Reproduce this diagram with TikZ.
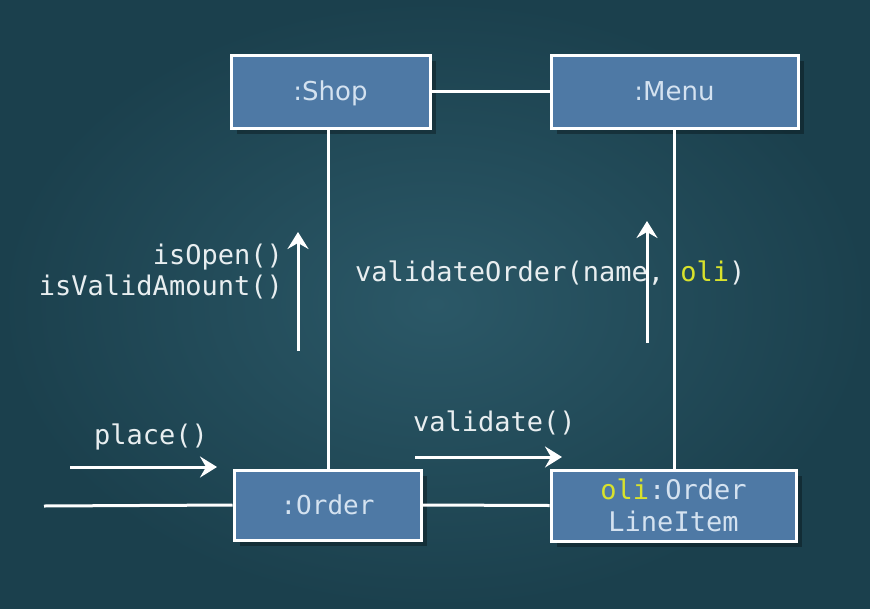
\documentclass[tikz,border=0pt]{standalone}
\usepackage{fontspec}
\setmainfont{DejaVu Sans}
\newfontfamily\codefont{DejaVu Sans Mono}
\usetikzlibrary{arrows.meta,shadows}
\definecolor{bgc}{HTML}{2B5867}
\definecolor{bgdark}{HTML}{1B404D}
\definecolor{boxc}{HTML}{4E79A5}
\definecolor{boxtext}{HTML}{D4E2F0}
\definecolor{olic}{HTML}{D8E22C}
\definecolor{labtext}{HTML}{E8EEF0}
\tikzset{
  objbox/.style={draw=white, line width=3pt, fill=boxc, text=boxtext, inner sep=0pt, align=center,
    drop shadow={shadow xshift=6pt, shadow yshift=-6pt, fill=black, opacity=0.3}},
  link/.style={draw=white, line width=3pt},
  msgarrow/.style={draw=white, line width=3pt, -{Stealth[length=17pt,width=21pt,inset=6pt]}},
  msglabel/.style={text=labtext, font=\codefont\fontsize{27}{31}\selectfont, inner sep=0pt}
}
\begin{document}
\begin{tikzpicture}[x=1pt,y=-1pt]
\useasboundingbox (0,0) rectangle (870,608);
\shade[inner color=bgc, outer color=bgdark] (0,0) rectangle (870,608);
% objects
\node[objbox, minimum width=199pt, minimum height=73pt, text depth=1pt, font=\fontsize{26}{30}\selectfont] (shop) at (330.5,91.5) {:Shop};
\node[objbox, minimum width=247pt, minimum height=73pt, text depth=1pt, font=\fontsize{26}{30}\selectfont] (menu) at (674.5,91.5) {:Menu};
\node[objbox, minimum width=187pt, minimum height=70pt, font=\codefont\fontsize{26}{30}\selectfont] (order) at (327.5,505) {:Order};
\node[objbox, minimum width=245pt, minimum height=71pt, font=\codefont\fontsize{27}{32}\selectfont] (oli) at (673.5,505.5) {\textcolor{olic}{oli}:Order\\LineItem};
% links
\coordinate (start) at (44,506);
\draw[link] (shop.east) -- (menu.west);
\draw[link] (shop.south -| 328,0) -- (order.north -| 328,0);
\draw[link] (menu.south -| 674,0) -- (oli.north -| 674,0);
\draw[link] (order.east) -- (oli.west);
\draw[link] (start) -- (order.west);
% messages
\coordinate (pA) at (70,467); \coordinate (pB) at (217,467);
\draw[msgarrow] (pA) -- (pB);
\node[msglabel, anchor=west] (placel) at (94,437) {place()};
\coordinate (vA) at (415,457); \coordinate (vB) at (562,457);
\draw[msgarrow] (vA) -- (vB);
\node[msglabel, anchor=west] (validl) at (413,423) {validate()};
\coordinate (iA) at (298,351); \coordinate (iB) at (298,232);
\draw[msgarrow] (iA) -- (iB);
\node[msglabel, anchor=east, align=right] (isl) at (283,272) {isOpen()\\isValidAmount()};
\coordinate (oA) at (647,343); \coordinate (oB) at (647,221);
\draw[msgarrow] (oA) -- (oB);
\node[msglabel, anchor=west] (vol) at (355,273) {validateOrder(name, \textcolor{olic}{oli})};
\end{tikzpicture}
\end{document}
